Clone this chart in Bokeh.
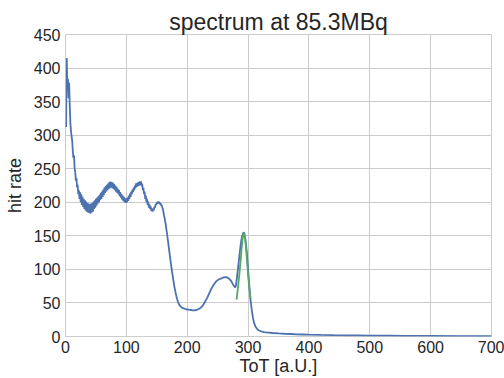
from bokeh.plotting import figure
from bokeh.embed import file_html
from bokeh.resources import INLINE
from bokeh.models import Range1d, FixedTicker

# noisy low-ToT part of the spectrum, one value per ToT unit starting at 1
noisy_rate = [
    312, 415, 372, 384, 355, 378, 345, 318, 306, 298,
    292, 276, 266, 270, 250, 245, 232, 236, 222, 226,
    212, 218, 205, 215, 200, 212, 196, 208, 193, 205,
    190, 203, 188, 201, 186, 199, 185, 198, 184, 197,
    183, 198, 185, 199, 186, 201, 190, 203, 192, 205,
    195, 207, 198, 209, 200, 211, 203, 214, 205, 216,
    208, 219, 211, 222, 214, 224, 216, 226, 218, 228,
    220, 230, 221, 231, 222, 230, 221, 229, 220, 227,
    218, 225, 216, 223, 214, 220, 212, 218, 209, 215,
    207, 212, 204, 210, 202, 208, 200, 206, 199, 206,
    200, 207, 202, 210, 205, 213, 208, 216, 212, 219,
    215, 222, 218, 225, 221, 228, 223, 229, 224, 230,
    225, 231, 226, 231, 224, 228, 218, 222, 212, 216,
    205, 210, 200, 205, 196, 201, 192, 197, 190, 194,
    187, 191, 186, 190, 188, 193, 192, 197, 196, 200,
    198, 201, 199, 201, 197, 199, 195, 196, 192, 190,
    185, 180,
]
noisy_tot = list(range(1, len(noisy_rate) + 1))

# smooth high-ToT part
smooth_tot = [163, 165, 167, 169, 171, 173, 175, 177, 179, 181, 183, 185, 187,
              189, 191, 194, 197, 200, 203, 206, 209, 212, 215, 218, 221, 224,
              227, 230, 233, 236, 239, 242, 245, 248, 251, 254, 257, 260, 263,
              266, 269, 272, 275, 277, 279, 280, 282, 284, 286, 288, 290, 292,
              293, 294, 296, 298, 300, 302, 304, 306, 308, 310, 312, 315, 318,
              322, 326, 330, 340, 350, 360, 370, 380, 390, 400, 420, 440, 460,
              480, 500, 530, 560, 600, 650, 700]
smooth_rate = [176, 165, 152, 138, 124, 110, 97, 85, 74, 65, 57, 51, 47,
               45, 43, 42, 41, 40, 40, 39.5, 39, 39, 39.5, 40.5, 42, 44.5,
               48, 53, 58, 64, 70, 75, 79, 82.5, 84.5, 86, 87, 88, 88.5,
               88, 86, 83, 78, 75, 73, 76, 90, 106, 122, 138, 149, 154,
               155, 153, 142, 125, 100, 76, 55, 40, 28, 20, 15, 11, 9,
               7.5, 6.5, 6, 5.2, 4.6, 4.1, 3.7, 3.3, 3.0, 2.7, 2.3, 2.0, 1.8,
               1.6, 1.4, 1.2, 1.0, 0.9, 0.7, 0.6]

# fitted photo peak
fit_tot = list(range(281, 305))
fit_rate = [55, 62, 70, 78, 87, 96, 106, 116, 127, 137, 146, 152, 154,
            152, 146, 138, 127, 116, 105, 93, 82, 72, 64, 57]

x_ticks = [0, 100, 200, 300, 400, 500, 600, 700]
y_ticks = [0, 50, 100, 150, 200, 250, 300, 350, 400, 450]

tot = noisy_tot + smooth_tot
rate = noisy_rate + smooth_rate

FONT = "Liberation Sans"
TXT = "#262626"

p = figure(width=504, height=378, output_backend="svg", toolbar_location=None,
           x_range=Range1d(0, 700), y_range=Range1d(0, 450),
           min_border_left=65, min_border_right=13, min_border_top=34,
           min_border_bottom=42, title="spectrum at 85.3MBq")
p.background_fill_color = "white"
p.border_fill_color = "white"
p.outline_line_color = "#cccccc"

p.title.text_font = FONT
p.title.text_font_size = "23px"
p.title.text_font_style = "normal"
p.title.text_color = TXT
p.title.align = "center"
p.title.standoff = 0

p.line(tot, rate, color="#4c72b0", line_width=1.8)
p.line(fit_tot, fit_rate, color="#55a868", line_width=1.8)

p.xaxis.ticker = FixedTicker(ticks=x_ticks)
p.yaxis.ticker = FixedTicker(ticks=y_ticks)
for ax in (p.xaxis[0], p.yaxis[0]):
    ax.axis_line_color = None
    ax.major_tick_line_color = None
    ax.minor_tick_line_color = None
    ax.major_tick_out = 0
    ax.major_tick_in = 0
    ax.major_label_text_font = FONT
    ax.major_label_text_font_size = "16px"
    ax.major_label_text_color = TXT
    ax.axis_label_text_font = FONT
    ax.axis_label_text_font_size = "18px"
    ax.axis_label_text_font_style = "normal"
    ax.axis_label_text_color = TXT
p.xaxis.axis_label = "ToT [a.U.]"
p.yaxis.axis_label = "hit rate"
p.xaxis.major_label_standoff = 4
p.xaxis.axis_label_standoff = 0
p.yaxis.major_label_standoff = 5
p.yaxis.axis_label_standoff = 6

p.grid.grid_line_color = "#cccccc"
p.grid.grid_line_width = 1

open("out.html", "w").write(file_html(p, INLINE))
